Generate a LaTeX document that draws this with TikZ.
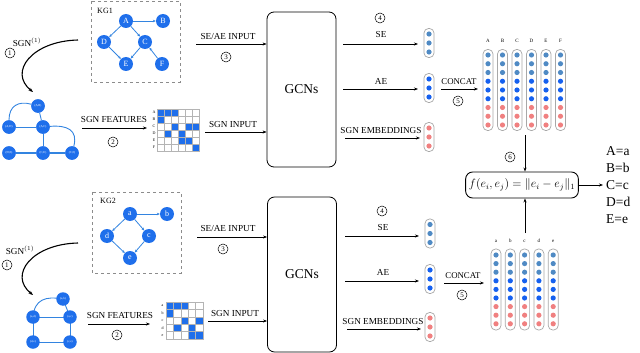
\documentclass[tikz,border=0pt]{standalone}
\usepackage{fontspec}
\setmainfont{Liberation Serif}
\usetikzlibrary{arrows.meta,calc}
\definecolor{nodeblue}{HTML}{1F6FEB}
\definecolor{edgeblue}{HTML}{3384E0}
\definecolor{steel}{HTML}{4F8AC4}
\definecolor{vblue}{HTML}{1560EF}
\definecolor{pinkc}{HTML}{F08080}
\definecolor{pillgray}{HTML}{A8A8A8}
\definecolor{gridgray}{HTML}{B4B4B4}
\definecolor{dashgray}{HTML}{8C8C8C}
\begin{document}
\begin{tikzpicture}[x=1pt,y=-1pt,
  arr/.style={-{Stealth[length=4pt,width=3pt]}, line width=0.6pt},
  lbl/.style={font=\fontsize{9.2}{10}\selectfont, inner sep=0},
  kgn/.style={circle, fill=nodeblue, text=white, minimum size=14pt, inner sep=0, font=\fontsize{8}{8}\selectfont},
  kge/.style={-{Stealth[length=3pt,width=2.6pt]}, edgeblue, line width=0.8pt},
  sgn/.style={circle, fill=nodeblue, text=white, minimum size=13.5pt, inner sep=0, font=\fontsize{3}{3}\selectfont},
  sge/.style={edgeblue, line width=0.9pt},
  circ/.style={circle, draw, line width=0.5pt, minimum size=10pt, inner sep=0, font=\fontsize{7}{7}\selectfont},
  pill/.style={draw=pillgray, line width=0.7pt, rounded corners=4.5pt, minimum width=10pt, inner sep=0},
  dotc/.style={circle, fill=#1, minimum size=5.2pt, inner sep=0},
  gcn/.style={draw, line width=0.8pt, rounded corners=7pt, minimum width=69pt, minimum height=155pt, font=\fontsize{13.5}{14}\selectfont},
  tiny/.style={font=\fontsize{5}{5}\selectfont, inner sep=0},
  rowl/.style={font=\fontsize{4}{4}\selectfont, inner sep=0},
]
\useasboundingbox (0,0) rectangle (640,353);

% ================= TOP HALF =================
% KG1
\draw[dashgray, dashed, line width=0.7pt] (91,1) rectangle (180,82);
\node[font=\fontsize{8}{8}\selectfont, inner sep=0] (kg1) at (105,11) {KG1};
\node[kgn] (A) at (126,21) {A};
\node[kgn] (B) at (163,21) {B};
\node[kgn] (D) at (104,42) {D};
\node[kgn] (C) at (145,42) {C};
\node[kgn] (E) at (126,64) {E};
\node[kgn] (F) at (162,64) {F};
\draw[kge] (A) -- (B);
\draw[kge] (A) -- (D);
\draw[kge] (A) -- (C);
\draw[kge] (D) -- (E);
\draw[kge] (C) -- (E);
\draw[kge] (F) -- (C);

% SGN curve 1
\coordinate (c1s) at (78,40);
\coordinate (c1e) at (33,92);
\draw[-{Stealth[length=4.5pt,width=3.5pt]}, line width=1.1pt] (c1s) .. controls (32,41) and (8,72) .. (c1e);
\node[lbl] (sgnl1) at (27,42) {SGN$^{(1)}$};
\node[circ] (n1a) at (10,53) {1};

% SGN graph 1
\node[sgn] (ab) at (38,106) {(A,B)};
\node[sgn] (ad) at (9,127) {(A,D)};
\node[sgn] (ac) at (43,127) {(A,C)};
\node[sgn] (de) at (9,153) {(D,E)};
\node[sgn] (ce) at (43,153) {(C,E)};
\node[sgn] (cf) at (72,153) {(C,F)};
\begin{scope}[on background layer/.try]
\draw[sge] (ad) to[out=90,in=165,looseness=1.3] (ab);
\draw[sge] (ab) -- (ac);
\draw[sge] (ad) -- (ac);
\draw[sge] (ac) -- (ce);
\draw[sge] (ac) to[out=5,in=75,looseness=1.4] (cf);
\draw[sge, line width=1.8pt] (de) -- (ce);
\draw[sge, line width=1.8pt] (ce) -- (cf);
\end{scope}
\node[sgn] at (ab) {(A,B)};
\node[sgn] at (ad) {(A,D)};
\node[sgn] at (ac) {(A,C)};
\node[sgn] at (de) {(D,E)};
\node[sgn] at (ce) {(C,E)};
\node[sgn] at (cf) {(C,F)};

% SGN features 1
\coordinate (f1s) at (82,128);
\node[inner sep=0, minimum size=42pt] (m1) at (178,130) {};
\draw[arr] (f1s) -- (f1s -| 147,0);
\node[lbl] (sf1) at (114,119) {SGN FEATURES};
\node[circ] (n2a) at (113,142) {2};
\foreach \ri in {0,...,5}
  \foreach \ci in {0,...,5}
    \draw[gridgray, fill=white, line width=0.5pt] (157+\ci*7,109+\ri*7) rectangle ++(7,7);
\foreach \ri/\ci in {0/0,0/1,0/2,1/0,2/2,2/4,2/5,3/1,3/3,4/3,4/4,5/5}
  \draw[gridgray, fill=nodeblue, line width=0.5pt] (157+\ci*7,109+\ri*7) rectangle ++(7,7);
\foreach \ri/\l in {0/A,1/B,2/C,3/D,4/E,5/F}
  \node[rowl] at (154,112.5+\ri*7) {\l};

% SGN input 1
\node[gcn] (g1) at (301.5,89.5) {GCNs};
\coordinate (si1) at (205,132);
\draw[arr] (si1) -- (si1 -| g1.west);
\node[lbl] (sil1) at (233,124) {SGN INPUT};
\coordinate (sa1) at (196,44);
\draw[arr] (sa1) -- (sa1 -| g1.west);
\node[lbl] (sal1) at (228,36) {SE/AE INPUT};
\node[circ] (n3a) at (226,57) {3};

% outputs 1
\node[pill, minimum height=29pt] (se1) at (429,43) {};
\node[pill, minimum height=29pt] (ae1) at (429,88) {};
\node[pill, minimum height=29pt] (sg1) at (429,137) {};
\foreach \dy in {-9,0,9} {
  \node[dotc=steel] at ($(se1)+(0,\dy)$) {};
  \node[dotc=vblue] at ($(ae1)+(0,\dy)$) {};
  \node[dotc=pinkc] at ($(sg1)+(0,\dy)$) {};
}
\coordinate (o1a) at (343,44);
\coordinate (o1b) at (343,89);
\coordinate (o1c) at (345,138);
\draw[arr] (o1a) -- (o1a -| 418,0);
\draw[arr] (o1b) -- (o1b -| 418,0);
\draw[arr] (o1c) -- (o1c -| 420,0);
\node[lbl] (sel1) at (381,35) {SE};
\node[lbl] (ael1) at (381,81) {AE};
\node[lbl] (sgl1) at (381,130) {SGN EMBEDDINGS};
\node[circ] (n4a) at (380,18) {4};

% concat 1
\coordinate (k1) at (441,89);
\draw[arr] (k1) -- (478,89);
\node[lbl, font=\fontsize{8.8}{9}\selectfont] (kl1) at (459,82) {CONCAT};
\node[circ] (n5a) at (458,101) {5};
\foreach \x/\l in {488/A,502.5/B,517/C,531.5/D,546/E,560.5/F} {
  \node[pill, minimum height=81pt] (col\l) at (\x,90) {};
  \node[tiny] at (\x,41) {\l};
  \foreach \i/\cl in {0/steel,1/steel,2/steel,3/vblue,4/vblue,5/vblue,6/pinkc,7/pinkc,8/pinkc}
    \node[dotc=\cl] at (\x,55+\i*8.75) {};
}

% formula
\node[draw, line width=0.9pt, rounded corners=7pt, minimum width=110pt, minimum height=26pt, font=\fontsize{11.5}{12}\selectfont] (fx) at (522,185) {$f(e_i,e_j)=\|e_i-e_j\|_1$};
\coordinate (t6) at (525,135);
\draw[arr] (t6) -- (t6 |- fx.north);
\node[circ] (n6) at (510,157) {6};
\coordinate (b6) at (525,233);
\draw[arr] (b6) -- (b6 |- fx.south);
\coordinate (fe) at (603,185);
\draw[arr] (fx.east) -- (fe);
\node[anchor=west, align=left, inner sep=0, font=\fontsize{13.5}{17}\selectfont] (res) at (606,185) {A=a\\B=b\\C=c\\D=d\\E=e};

% ================= BOTTOM HALF =================
\draw[dashgray, dashed, line width=0.7pt] (92,192) rectangle (181,273);
\node[font=\fontsize{8}{8}\selectfont, inner sep=0] (kg2) at (108,201) {KG2};
\node[kgn] (a) at (130,214) {a};
\node[kgn] (b) at (167,214) {b};
\node[kgn] (d) at (107,236) {d};
\node[kgn] (c) at (149,236) {c};
\node[kgn] (e) at (130,258) {e};
\draw[kge] (a) -- (b);
\draw[kge] (a) -- (d);
\draw[kge] (a) -- (c);
\draw[kge] (d) -- (e);
\draw[kge] (c) -- (e);

\coordinate (c2s) at (78,243);
\coordinate (c2e) at (33,295);
\draw[-{Stealth[length=4.5pt,width=3.5pt]}, line width=1.1pt] (c2s) .. controls (32,244) and (8,275) .. (c2e);
\node[lbl] (sgnl2) at (20,250) {SGN$^{(1)}$};
\node[circ] (n1b) at (7,265) {1};

% SGN graph 2
\draw[sge] (33,317) to[out=85,in=170,looseness=1.3] (63,299);
\draw[sge] (63,299) -- (70,317);
\draw[sge] (33,317) -- (70,317);
\draw[sge] (33,317) -- (33,342);
\draw[sge] (70,317) -- (70,342);
\draw[sge] (33,342) -- (70,342);
\node[sgn] (abb) at (63,299) {(a,b)};
\node[sgn] (adb) at (33,317) {(a,d)};
\node[sgn] (acb) at (70,317) {(a,c)};
\node[sgn] (deb) at (33,342) {(d,e)};
\node[sgn] (ceb) at (70,342) {(c,e)};

% SGN features 2
\coordinate (f2s) at (88,324);
\draw[arr] (f2s) -- (150,324);
\node[lbl] (sf2) at (120,315) {SGN FEATURES};
\node[circ] (n2b) at (117,335) {2};
\foreach \ri in {0,...,4}
  \foreach \ci in {0,...,4}
    \draw[gridgray, fill=white, line width=0.5pt] (166+\ci*7.4,302+\ri*7.4) rectangle ++(7.4,7.4);
\foreach \ri/\ci in {0/0,0/1,0/2,1/0,2/2,2/4,3/1,3/3,4/3,4/4}
  \draw[gridgray, fill=nodeblue, line width=0.5pt] (166+\ci*7.4,302+\ri*7.4) rectangle ++(7.4,7.4);
\foreach \ri/\l in {0/a,1/b,2/c,3/d,4/e}
  \node[rowl] at (162.5,305.7+\ri*7.4) {\l};

\node[gcn] (g2) at (302,274.5) {GCNs};
\coordinate (si2) at (208,321);
\draw[arr] (si2) -- (si2 -| g2.west);
\node[lbl] (sil2) at (235,313) {SGN INPUT};
\coordinate (sa2) at (197,237);
\draw[arr] (sa2) -- (sa2 -| g2.west);
\node[lbl] (sal2) at (228,228) {SE/AE INPUT};
\node[circ] (n3b) at (223,249) {3};

\node[pill, minimum height=29pt] (se2) at (430,233.5) {};
\node[pill, minimum height=29pt] (ae2) at (430,279) {};
\node[pill, minimum height=29pt] (sg2) at (430,327) {};
\foreach \dy in {-9,0,9} {
  \node[dotc=steel] at ($(se2)+(0,\dy)$) {};
  \node[dotc=vblue] at ($(ae2)+(0,\dy)$) {};
  \node[dotc=pinkc] at ($(sg2)+(0,\dy)$) {};
}
\coordinate (o2a) at (345,236);
\coordinate (o2b) at (345,281);
\coordinate (o2c) at (347,329);
\draw[arr] (o2a) -- (o2a -| 419,0);
\draw[arr] (o2b) -- (o2b -| 419,0);
\draw[arr] (o2c) -- (o2c -| 421,0);
\node[lbl] (sel2) at (383,227) {SE};
\node[lbl] (ael2) at (383,272) {AE};
\node[lbl] (sgl2) at (383,321) {SGN EMBEDDINGS};
\node[circ] (n4b) at (382,211) {4};

\coordinate (k2) at (444,283);
\draw[arr] (k2) -- (484,283);
\node[lbl, font=\fontsize{8.8}{9}\selectfont] (kl2) at (463,276) {CONCAT};
\node[circ] (n5b) at (462,295) {5};
\foreach \x/\l in {496/a,510.3/b,524.6/c,538.9/d,553.2/e} {
  \node[pill, minimum height=81pt] (colb\l) at (\x,289.5) {};
  \node[tiny] at (\x,241) {\l};
  \foreach \i/\cl in {0/steel,1/steel,2/steel,3/vblue,4/vblue,5/vblue,6/pinkc,7/pinkc,8/pinkc}
    \node[dotc=\cl] at (\x,255+\i*8.6) {};
}
\end{tikzpicture}
\end{document}
